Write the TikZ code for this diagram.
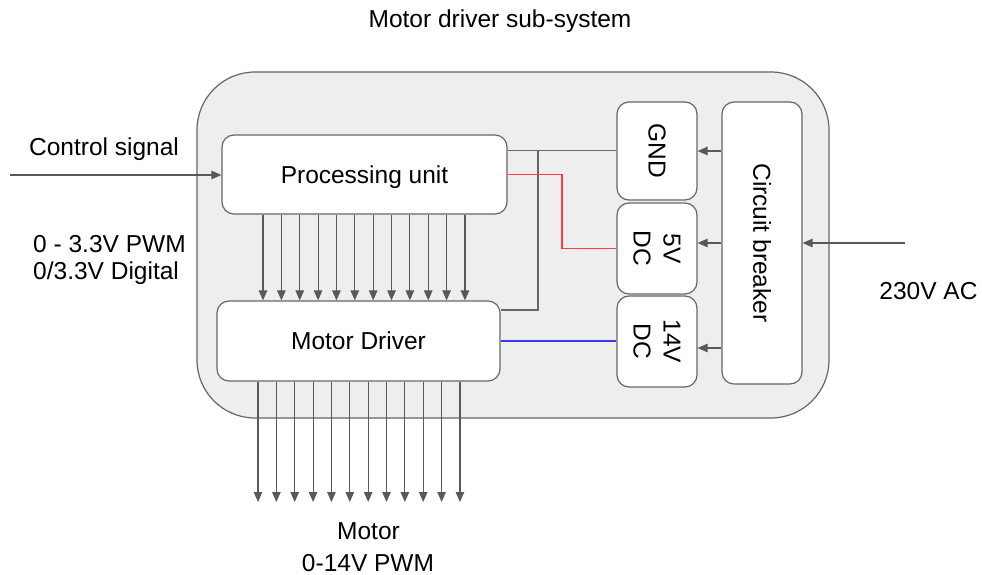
\documentclass[tikz,border=0pt]{standalone}
\usepackage{fontspec}
\setmainfont{Liberation Sans}
\usetikzlibrary{arrows.meta}
\definecolor{edge}{HTML}{666666}
\definecolor{arrowgray}{HTML}{595959}
\definecolor{panel}{HTML}{EEEEEE}
\definecolor{redwire}{HTML}{FF3B3B}
\definecolor{bluewire}{HTML}{3B3BF0}
\begin{document}
\begin{tikzpicture}[x=1pt,y=-1pt,
  txt/.style={font=\fontsize{24.5}{29}\selectfont, inner sep=0pt, text=black},
  blk/.style={draw=edge, fill=white, line width=1.2pt, rounded corners=12pt, inner sep=0pt,
              font=\fontsize{24.5}{29}\selectfont, text height=17.6pt, text depth=0pt},
  rot/.style={txt, rotate=-90, align=center},
  arr/.style={draw=arrowgray, line width=1.1pt, -{Triangle[length=10pt,width=8.5pt]}},
  wire/.style={draw=edge, line width=1.2pt},
  redw/.style={draw=redwire, line width=1.2pt},
  bluew/.style={draw=bluewire, line width=1.2pt}]
\useasboundingbox (0,0) rectangle (982,575);

% outer panel
\node[draw=edge, fill=panel, line width=1.2pt, rounded corners=58pt,
      minimum width=632pt, minimum height=346pt, inner sep=0pt] (panel) at (513,245) {};

% blocks
\node[blk, minimum width=285pt, minimum height=79pt] (PU) at (364.5,174.5) {Processing unit};
\node[blk, minimum width=283pt, minimum height=80pt] (MD) at (358.5,341) {Motor Driver};
\node[blk, minimum width=80pt, minimum height=98pt] (GND) at (657,151) {};
\node[blk, minimum width=80pt, minimum height=91pt] (V5) at (657,248.5) {};
\node[blk, minimum width=80pt, minimum height=91pt] (V14) at (657,341.5) {};
\node[blk, minimum width=80pt, minimum height=282pt] (CB) at (762,243) {};

\node[rot] (tGND) at (GND.center) {GND};
\node[rot, font=\fontsize{24.5}{30}\selectfont] (tV5) at (V5.center) {5V\\DC};
\node[rot, font=\fontsize{24.5}{30}\selectfont] (tV14) at (V14.center) {14V\\DC};
\node[rot] (tCB) at (CB.center) {Circuit breaker};

% texts
\node[txt, anchor=base] (title) at (500,27.3) {Motor driver sub-system};
\node[txt, anchor=base] (ctl) at (104,155) {Control signal};
\node[txt, anchor=base west] (pwm) at (33,252) {0 - 3.3V PWM};
\node[txt, anchor=base west] (dig) at (33,279) {0/3.3V Digital};
\node[txt, anchor=base] (motor) at (368.5,539) {Motor};
\node[txt, anchor=base] (mpwm) at (368,571) {0-14V PWM};
\node[txt, anchor=base] (ac) at (928.5,299) {230V AC};

% control signal input
\coordinate (csin) at (10,175);
\draw[arr] (csin) -- (csin -| PU.west);

% mains input
\coordinate (acin) at (905,243);
\draw[arr] (acin) -- (acin -| CB.east);

% breaker to supplies
\coordinate (yg) at (0,151);
\coordinate (y5) at (0,243);
\coordinate (y14) at (0,348);
\draw[arr] (CB.west |- yg) -- (GND.east |- yg);
\draw[arr] (CB.west |- y5) -- (V5.east |- y5);
\draw[arr] (CB.west |- y14) -- (V14.east |- y14);

% processing unit to motor driver
\foreach \i in {0,...,11}{
  \coordinate (pa\i) at ({263+\i*18.36},0);
  \draw[arr] (pa\i |- PU.south) -- (pa\i |- MD.north);
}

% motor outputs
\foreach \i in {0,...,11}{
  \coordinate (ma\i) at ({258+\i*18.36},502);
  \draw[arr] (ma\i |- MD.south) -- (ma\i);
}

% ground wiring
\coordinate (gy) at (0,150.5);
\coordinate (jn) at (538,150.5);
\coordinate (jd) at (538,310);
\draw[wire] (PU.east |- gy) -- (GND.west |- gy);
\draw[wire] (jn) -- (jd) -- (jd -| MD.east);

% 5V wiring
\coordinate (rx) at (562,0);
\draw[redw] (PU.east) -- (PU.east -| rx) |- (V5.west);

% 14V wiring
\draw[bluew] (MD.east) -- (MD.east -| V14.west);
\end{tikzpicture}
\end{document}
